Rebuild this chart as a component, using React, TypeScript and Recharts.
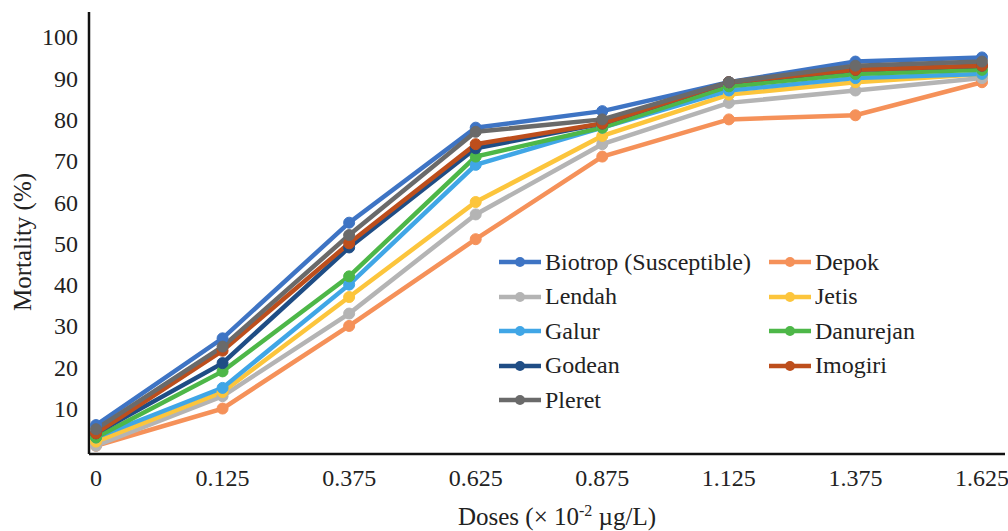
import React from 'react';
import { LineChart, Line, XAxis, YAxis } from 'recharts';

const doses = ['0', '0.125', '0.375', '0.625', '0.875', '1.125', '1.375', '1.625'];

const biotrop = [6, 27, 55, 78, 82, 89, 94, 95];
const depok = [1, 10, 30, 51, 71, 80, 81, 89];
const lendah = [1, 13, 33, 57, 74, 84, 87, 90];
const jetis = [2, 14, 37, 60, 76, 86, 89, 91];
const galur = [3, 15, 40, 69, 78, 87, 90, 91];
const danurejan = [3, 19, 42, 71, 78, 88, 91, 92];
const godean = [4, 21, 49, 73, 79, 89, 92, 93];
const imogiri = [4, 24, 50, 74, 79, 89, 92, 93];
const pleret = [5, 25, 52, 77, 80, 89, 93, 94];

const yTicks = [10, 20, 30, 40, 50, 60, 70, 80, 90, 100];

const series = [
  { key: 'biotrop', name: 'Biotrop (Susceptible)', values: biotrop, color: '#3E74C4' },
  { key: 'depok', name: 'Depok', values: depok, color: '#F59159' },
  { key: 'lendah', name: 'Lendah', values: lendah, color: '#B4B4B4' },
  { key: 'jetis', name: 'Jetis', values: jetis, color: '#FCC53C' },
  { key: 'galur', name: 'Galur', values: galur, color: '#40A6E6' },
  { key: 'danurejan', name: 'Danurejan', values: danurejan, color: '#4DB748' },
  { key: 'godean', name: 'Godean', values: godean, color: '#1F4D85' },
  { key: 'imogiri', name: 'Imogiri', values: imogiri, color: '#BD4E1C' },
  { key: 'pleret', name: 'Pleret', values: pleret, color: '#6A6A6A' },
];

const data = doses.map((d, i) => {
  const row: any = { dose: d };
  series.forEach(s => { row[s.key] = s.values[i]; });
  return row;
});

const FONT = '"Liberation Serif", "Times New Roman", serif';

// legend sits inside the plot, two columns like the Excel original
const LegendBox = () => {
  return (
    <div style={{ position: 'absolute', left: 498, top: 248, width: 510, height: 175, fontFamily: FONT, fontSize: 24, color: '#222' }}>
      {series.map((s, i) => {
        const col = i % 2;
        const row = Math.floor(i / 2);
        return (
          <div
            key={s.key}
            style={{
              position: 'absolute',
              left: col === 0 ? 0 : 270,
              top: row * 34.5,
              height: 28,
              display: 'flex',
              alignItems: 'center',
              whiteSpace: 'nowrap',
            }}
          >
            <svg width={44} height={14} style={{ marginRight: 3 }}>
              <line x1={1} y1={7} x2={43} y2={7} stroke={s.color} strokeWidth={4.5} />
              <circle cx={22} cy={7} r={5} fill={s.color} />
            </svg>
            <span>{s.name}</span>
          </div>
        );
      })}
    </div>
  );
};

const DosesLabel = (props: any) => {
  const { viewBox } = props;
  const cx = viewBox.x + viewBox.width / 2 + 10;
  return (
    <text x={cx} y={525} textAnchor="middle" fontFamily={FONT} fontSize={25} fill="#222">
      Doses (× 10
      <tspan dy={-9} fontSize={16}>-2</tspan>
      <tspan dy={9}> µg/L)</tspan>
    </text>
  );
};

const MortalityLabel = () => (
  <text
    x={22}
    y={242}
    transform="rotate(-90, 22, 242)"
    textAnchor="middle"
    dominantBaseline="central"
    fontFamily={FONT}
    fontSize={25}
    fill="#222"
  >
    Mortality (%)
  </text>
);

export default function App() {
  return (
    <div style={{ position: 'absolute', left: 0, top: 0, width: 1008, height: 531, background: '#fff' }}>
      <LineChart width={1008} height={531} data={data} margin={{ top: 12, right: 3, bottom: 17, left: 0 }}>
        <XAxis
          dataKey="dose"
          padding={{ left: 7, right: 23 }}
          axisLine={{ stroke: '#111', strokeWidth: 2.5 }}
          tickLine={false}
          tickSize={0}
          tickMargin={15}
          height={60}
          interval={0}
          tick={{ fontFamily: FONT, fontSize: 24, fill: '#222' }}
          label={<DosesLabel />}
        />
        <YAxis
          domain={[-1, 106]}
          ticks={yTicks}
          width={89}
          axisLine={{ stroke: '#111', strokeWidth: 2.5 }}
          tickLine={false}
          tickSize={0}
          tickMargin={11}
          tick={{ fontFamily: FONT, fontSize: 24, fill: '#222' }}
          label={<MortalityLabel />}
        />
        {series.map(s => (
          <Line
            key={s.key}
            type="linear"
            dataKey={s.key}
            name={s.name}
            stroke={s.color}
            strokeWidth={4.5}
            dot={{ r: 5.5, fill: s.color, stroke: s.color, strokeWidth: 1 }}
            isAnimationActive={false}
          />
        ))}
      </LineChart>
      <LegendBox />
    </div>
  );
}
